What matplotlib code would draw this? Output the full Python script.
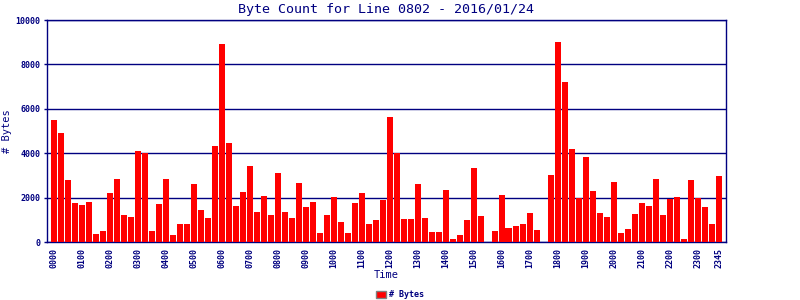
import matplotlib
matplotlib.use("Agg")
import matplotlib.pyplot as plt
from matplotlib.patches import Patch

values = [
    5500, 4920, 2800, 1770, 1680, 1810, 370, 510,
    2220, 2850, 1230, 1140, 4110, 4020, 510, 1720,
    2850, 330, 820, 820, 2620, 1450, 1090, 4330,
    8920, 4470, 1630, 2260, 3430, 1360, 2080, 1230,
    3120, 1360, 1090, 2670, 1590, 1810, 420, 1230,
    2040, 910, 420, 1770, 2220, 820, 1000, 1900,
    5640, 4000, 1050, 1050, 2620, 1090, 460, 460,
    2350, 150, 330, 1000, 3340, 1180, 0, 510,
    2130, 640, 730, 820, 1320, 550, 0, 3030,
    9010, 7210, 4200, 1980, 3840, 2310, 1320, 1140,
    2710, 420, 600, 1270, 1770, 1630, 2850, 1230,
    1950, 2040, 150, 2800, 1990, 1590, 820, 2980,
]
tick_slots = [0, 4, 8, 12, 16, 20, 24, 28, 32, 36, 40, 44, 48, 52, 56, 60,
              64, 68, 72, 76, 80, 84, 88, 92, 95]
tick_labels = ["0000", "0100", "0200", "0300", "0400", "0500", "0600", "0700",
               "0800", "0900", "1000", "1100", "1200", "1300", "1400", "1500",
               "1600", "1700", "1800", "1900", "2000", "2100", "2200", "2300", "2345"]
y_ticks = [0, 2000, 4000, 6000, 8000, 10000]

NAVY = "#000080"
FONT = "DejaVu Sans Mono"

fig = plt.figure(figsize=(8, 3), dpi=100)
ax = fig.add_axes([47/800, 58/300, 679/800, 222/300])

x = list(range(len(values)))
ax.bar(x, values, width=0.86, color="#ff0000", zorder=3)

ax.set_xlim(-0.93, 96.07)
ax.set_ylim(0, 10000)
ax.set_yticks(y_ticks)
ax.set_yticklabels([str(v) for v in y_ticks], fontsize=6, fontweight="bold",
                   color=NAVY, family=FONT)
ax.set_xticks(tick_slots)
ax.set_xticklabels(tick_labels, rotation=90, fontsize=6, fontweight="bold",
                   color=NAVY, family=FONT)
ax.tick_params(axis="x", length=0, pad=4)
ax.tick_params(axis="y", length=2.5, width=1, color=NAVY, pad=2)

ax.grid(axis="y", color=NAVY, linewidth=1.0, zorder=1)
ax.set_axisbelow(True)
for s in ax.spines.values():
    s.set_color(NAVY)
    s.set_linewidth(1.0)

ax.set_title("Byte Count for Line 0802 - 2016/01/24", fontsize=9.6,
             color=NAVY, family=FONT, pad=5)
ax.set_xlabel("Time", fontsize=7.5, color=NAVY, family=FONT, labelpad=2)
ax.set_ylabel("# Bytes", fontsize=7.5, color=NAVY, family=FONT, labelpad=2.5)

handle = Patch(facecolor="#ff0000", edgecolor="#808080", linewidth=1)
leg = fig.legend([handle], ["# Bytes"], loc="center", bbox_to_anchor=(0.5, 0.017),
                 frameon=False, handlelength=1.2, handleheight=0.8,
                 handletextpad=0.3, borderpad=0,
                 prop={"family": FONT, "size": 6, "weight": "bold"})
for t in leg.get_texts():
    t.set_color(NAVY)

fig.savefig("out.png", dpi=100)
